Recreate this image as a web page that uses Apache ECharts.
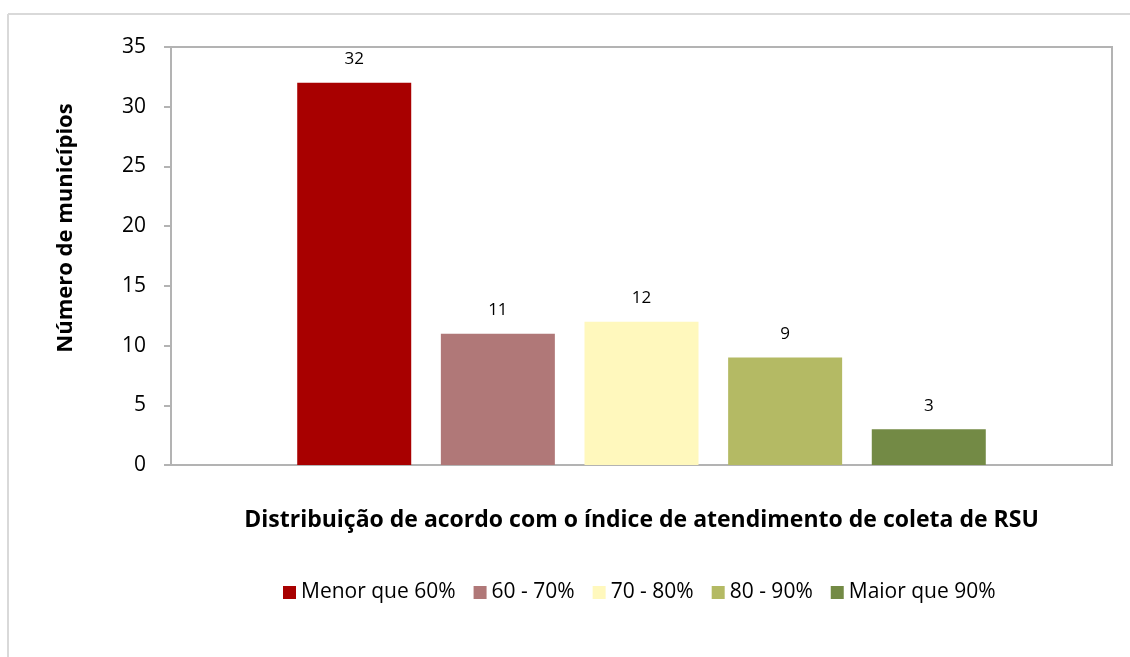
<!DOCTYPE html>
<html>
<head>
<meta charset="utf-8">
<script src="https://cdn.jsdelivr.net/npm/echarts@6/dist/echarts.min.js"></script>
<style>
  html, body { margin: 0; padding: 0; background: #fff; }
  #chart { width: 1130px; height: 657px; }
</style>
</head>
<body>
<div id="chart"></div>
<script>
// Faixas do índice de atendimento de coleta de RSU
const faixas = ['Menor que 60%', '60 - 70%', '70 - 80%', '80 - 90%', 'Maior que 90%'];
// Número de municípios em cada faixa
const municipios = [32, 11, 12, 9, 3];
const cores = ['#A80000', '#B07878', '#FFF8BD', '#B4BA64', '#738A45'];
const yTicks = [0, 5, 10, 15, 20, 25, 30, 35];
const tituloY = 'Número de municípios';
const tituloX = 'Distribuição de acordo com o índice de atendimento de coleta de RSU';

const FONT = '"Open Sans", sans-serif';

const chart = echarts.init(document.getElementById('chart'), null, { renderer: 'canvas' });

const series = faixas.map((nome, i) => ({
  name: nome,
  type: 'bar',
  data: [municipios[i]],
  barWidth: 114,
  barGap: '26%',
  itemStyle: { color: cores[i] },
  label: {
    show: true,
    position: 'top',
    distance: 15,
    color: '#000',
    fontFamily: FONT,
    fontSize: 17
  }
}));

chart.setOption({
  animation: false,
  backgroundColor: '#fff',
  graphic: [
    // moldura externa (apenas topo e lado esquerdo visíveis)
    { type: 'line', shape: { x1: 8, y1: 14, x2: 1130, y2: 14 }, style: { stroke: '#d9d9d9', lineWidth: 2 } },
    { type: 'line', shape: { x1: 8, y1: 14, x2: 8, y2: 657 }, style: { stroke: '#d9d9d9', lineWidth: 2 } },
    // título do eixo vertical
    {
      type: 'text',
      x: 66, y: 228,
      rotation: Math.PI / 2,
      style: {
        text: tituloY,
        fontFamily: FONT, fontSize: 22, fontWeight: 'bold', fill: '#000',
        align: 'center', verticalAlign: 'middle'
      }
    }
  ],
  grid: {
    left: 171, right: 18, top: 47, bottom: 192,
    show: true, borderColor: '#b3b3b3', borderWidth: 2, backgroundColor: '#fff'
  },
  legend: {
    data: faixas,
    top: 577,
    left: 278,
    itemWidth: 13,
    itemHeight: 13,
    itemGap: 18,
    icon: 'rect',
    textStyle: { fontFamily: FONT, fontSize: 21, color: '#000' }
  },
  xAxis: {
    type: 'category',
    data: [''],
    name: tituloX,
    nameLocation: 'middle',
    nameGap: 44,
    nameTextStyle: { fontFamily: FONT, fontSize: 23, fontWeight: 'bold', color: '#000' },
    axisLine: { lineStyle: { color: '#b3b3b3', width: 2 } },
    axisTick: { show: false },
    axisLabel: { show: false }
  },
  yAxis: {
    type: 'value',
    min: yTicks[0],
    max: yTicks[yTicks.length - 1],
    interval: 5,
    axisLine: { show: true, lineStyle: { color: '#b3b3b3', width: 2 } },
    axisTick: { show: true, length: 7, lineStyle: { color: '#b3b3b3', width: 2 } },
    axisLabel: { fontFamily: FONT, fontSize: 21, color: '#000', margin: 25 },
    splitLine: { show: false }
  },
  series: series
});
</script>
</body>
</html>
